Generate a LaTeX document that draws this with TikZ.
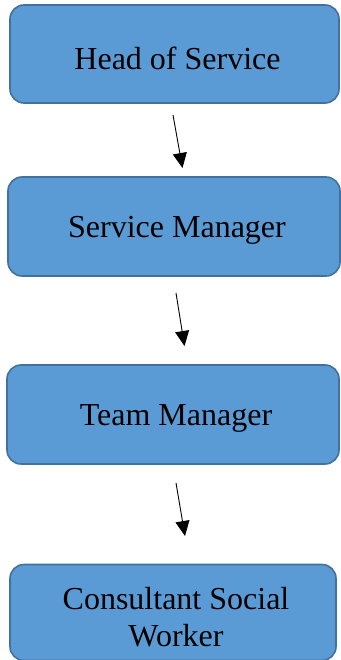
\documentclass[tikz,border=0pt]{standalone}
\usepackage{fontspec}
\setmainfont{Liberation Serif}
\usetikzlibrary{arrows.meta}
\definecolor{boxfill}{HTML}{5B9BD5}
\definecolor{boxline}{HTML}{41719C}
\tikzset{
  rolebox/.style={draw=boxline, fill=boxfill, line width=1.6pt, rounded corners=14pt, inner sep=0pt},
  roletext/.style={align=center, font=\fontsize{32}{37}\selectfont, inner sep=0pt, xshift=3pt, yshift=-4pt},
  flow/.style={line width=0.9pt, -{Triangle[length=15pt,width=14pt]}}
}
\begin{document}
\begin{tikzpicture}[x=1pt,y=-1pt]
\useasboundingbox (0,0) rectangle (340,660);
\node[rolebox, minimum width=329pt, minimum height=98pt,
  label={[roletext]center:Head of Service}] (head) at (174.5,54) {};
\node[rolebox, minimum width=332pt, minimum height=99pt,
  label={[roletext]center:Service Manager}] (svc) at (174,226.5) {};
\node[rolebox, minimum width=332pt, minimum height=99pt,
  label={[roletext]center:Team Manager}] (team) at (173,414.5) {};
\node[rolebox, minimum width=326pt, minimum height=96pt,
  label={[roletext, yshift=-1pt]center:Consultant Social\\Worker}] (csw) at (173,612.5) {};
\coordinate (a1s) at (173,115);
\coordinate (a1e) at (182.5,168);
\coordinate (a2s) at (176,293);
\coordinate (a2e) at (184.5,346);
\coordinate (a3s) at (176,483);
\coordinate (a3e) at (185,536);
\draw[flow] (a1s) -- (a1e);
\draw[flow] (a2s) -- (a2e);
\draw[flow] (a3s) -- (a3e);
\end{tikzpicture}
\end{document}
